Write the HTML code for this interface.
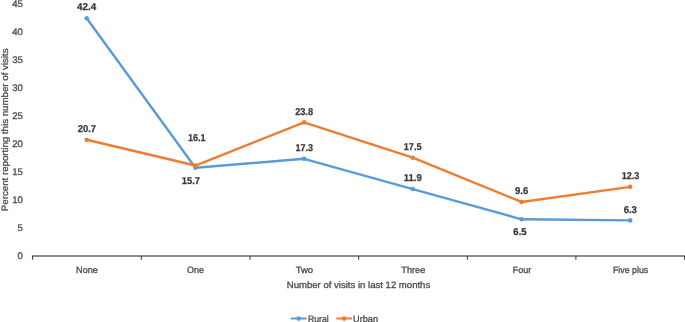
<!DOCTYPE html>
<html><head><meta charset="utf-8"><title>Chart</title>
<style>
html,body{margin:0;padding:0;background:#fff;}
svg{display:block;}
text{font-family:"Liberation Sans",sans-serif;text-rendering:geometricPrecision;}
</style></head><body>
<svg width="685" height="322" viewBox="0 0 685 322">
<rect width="685" height="322" fill="#fff"/>
<path d="M31.8 256.05H685" stroke="#666" stroke-width="1.6" fill="none"/>
<path d="M32.60 256V259.7" stroke="#404040" stroke-width="1.1" fill="none"/>
<path d="M141.35 256V259.7" stroke="#404040" stroke-width="1.1" fill="none"/>
<path d="M250.00 256V259.7" stroke="#404040" stroke-width="1.1" fill="none"/>
<path d="M358.60 256V259.7" stroke="#404040" stroke-width="1.1" fill="none"/>
<path d="M467.40 256V259.7" stroke="#404040" stroke-width="1.1" fill="none"/>
<path d="M575.90 256V259.7" stroke="#404040" stroke-width="1.1" fill="none"/>
<path d="M684.60 256V259.7" stroke="#404040" stroke-width="1.1" fill="none"/>
<text x="22.9" y="259.30" font-size="9.6" fill="#4a4a4a" stroke="#4a4a4a" stroke-width="0.3" text-anchor="end">0</text>
<text x="22.9" y="231.30" font-size="9.6" fill="#4a4a4a" stroke="#4a4a4a" stroke-width="0.3" text-anchor="end">5</text>
<text x="22.9" y="203.30" font-size="9.6" fill="#4a4a4a" stroke="#4a4a4a" stroke-width="0.3" text-anchor="end">10</text>
<text x="22.9" y="175.30" font-size="9.6" fill="#4a4a4a" stroke="#4a4a4a" stroke-width="0.3" text-anchor="end">15</text>
<text x="22.9" y="147.30" font-size="9.6" fill="#4a4a4a" stroke="#4a4a4a" stroke-width="0.3" text-anchor="end">20</text>
<text x="22.9" y="119.30" font-size="9.6" fill="#4a4a4a" stroke="#4a4a4a" stroke-width="0.3" text-anchor="end">25</text>
<text x="22.9" y="91.30" font-size="9.6" fill="#4a4a4a" stroke="#4a4a4a" stroke-width="0.3" text-anchor="end">30</text>
<text x="22.9" y="63.30" font-size="9.6" fill="#4a4a4a" stroke="#4a4a4a" stroke-width="0.3" text-anchor="end">35</text>
<text x="22.9" y="35.30" font-size="9.6" fill="#4a4a4a" stroke="#4a4a4a" stroke-width="0.3" text-anchor="end">40</text>
<text x="22.9" y="7.30" font-size="9.6" fill="#4a4a4a" stroke="#4a4a4a" stroke-width="0.3" text-anchor="end">45</text>
<text x="87.00" y="273" font-size="9.2" fill="#4a4a4a" stroke="#4a4a4a" stroke-width="0.3" text-anchor="middle" textLength="21.9" lengthAdjust="spacingAndGlyphs">None</text>
<text x="195.50" y="273" font-size="9.2" fill="#4a4a4a" stroke="#4a4a4a" stroke-width="0.3" text-anchor="middle" textLength="16.9" lengthAdjust="spacingAndGlyphs">One</text>
<text x="304.40" y="273" font-size="9.2" fill="#4a4a4a" stroke="#4a4a4a" stroke-width="0.3" text-anchor="middle" textLength="17.5" lengthAdjust="spacingAndGlyphs">Two</text>
<text x="413.30" y="273" font-size="9.2" fill="#4a4a4a" stroke="#4a4a4a" stroke-width="0.3" text-anchor="middle" textLength="24.0" lengthAdjust="spacingAndGlyphs">Three</text>
<text x="522.00" y="273" font-size="9.2" fill="#4a4a4a" stroke="#4a4a4a" stroke-width="0.3" text-anchor="middle" textLength="18.5" lengthAdjust="spacingAndGlyphs">Four</text>
<text x="630.60" y="273" font-size="9.2" fill="#4a4a4a" stroke="#4a4a4a" stroke-width="0.3" text-anchor="middle" textLength="35.3" lengthAdjust="spacingAndGlyphs">Five plus</text>
<text x="358.5" y="287.7" font-size="9.2" fill="#4a4a4a" stroke="#4a4a4a" stroke-width="0.3" text-anchor="middle" textLength="143.4" lengthAdjust="spacingAndGlyphs">Number of visits in last 12 months</text>
<text transform="translate(7.7 129.8) rotate(-90)" font-size="9.2" fill="#4a4a4a" stroke="#4a4a4a" stroke-width="0.3" text-anchor="middle" textLength="162.7" lengthAdjust="spacingAndGlyphs">Percent reporting this number of visits</text>
<polyline points="86.70,18.26 195.40,167.78 304.10,158.82 412.80,189.06 521.50,219.30 630.20,220.42" fill="none" stroke="#5B9BD5" stroke-width="2.4" stroke-linejoin="round" stroke-linecap="round"/>
<circle cx="86.70" cy="18.26" r="2.3" fill="#5B9BD5"/>
<circle cx="195.40" cy="167.78" r="2.3" fill="#5B9BD5"/>
<circle cx="304.10" cy="158.82" r="2.3" fill="#5B9BD5"/>
<circle cx="412.80" cy="189.06" r="2.3" fill="#5B9BD5"/>
<circle cx="521.50" cy="219.30" r="2.3" fill="#5B9BD5"/>
<circle cx="630.20" cy="220.42" r="2.3" fill="#5B9BD5"/>
<polyline points="86.70,139.78 195.40,165.54 304.10,122.42 412.80,157.70 521.50,201.94 630.20,186.82" fill="none" stroke="#ED7D31" stroke-width="2.4" stroke-linejoin="round" stroke-linecap="round"/>
<circle cx="86.70" cy="139.78" r="2.3" fill="#ED7D31"/>
<circle cx="195.40" cy="165.54" r="2.3" fill="#ED7D31"/>
<circle cx="304.10" cy="122.42" r="2.3" fill="#ED7D31"/>
<circle cx="412.80" cy="157.70" r="2.3" fill="#ED7D31"/>
<circle cx="521.50" cy="201.94" r="2.3" fill="#ED7D31"/>
<circle cx="630.20" cy="186.82" r="2.3" fill="#ED7D31"/>
<text x="86.60" y="10.46" font-size="10" font-weight="bold" fill="#383838" stroke="#383838" stroke-width="0.25" text-anchor="middle" textLength="19.2" lengthAdjust="spacingAndGlyphs">42.4</text>
<text x="86.90" y="131.98" font-size="10" font-weight="bold" fill="#383838" stroke="#383838" stroke-width="0.25" text-anchor="middle" textLength="18.4" lengthAdjust="spacingAndGlyphs">20.7</text>
<text x="196.80" y="141.40" font-size="10" font-weight="bold" fill="#383838" stroke="#383838" stroke-width="0.25" text-anchor="middle" textLength="17.6" lengthAdjust="spacingAndGlyphs">16.1</text>
<text x="190.90" y="183.60" font-size="10" font-weight="bold" fill="#383838" stroke="#383838" stroke-width="0.25" text-anchor="middle" textLength="18.2" lengthAdjust="spacingAndGlyphs">15.7</text>
<text x="304.10" y="114.62" font-size="10" font-weight="bold" fill="#383838" stroke="#383838" stroke-width="0.25" text-anchor="middle" textLength="17.9" lengthAdjust="spacingAndGlyphs">23.8</text>
<text x="304.20" y="151.02" font-size="10" font-weight="bold" fill="#383838" stroke="#383838" stroke-width="0.25" text-anchor="middle" textLength="17.6" lengthAdjust="spacingAndGlyphs">17.3</text>
<text x="412.70" y="149.90" font-size="10" font-weight="bold" fill="#383838" stroke="#383838" stroke-width="0.25" text-anchor="middle" textLength="17.9" lengthAdjust="spacingAndGlyphs">17.5</text>
<text x="412.70" y="181.26" font-size="10" font-weight="bold" fill="#383838" stroke="#383838" stroke-width="0.25" text-anchor="middle" textLength="17.9" lengthAdjust="spacingAndGlyphs">11.9</text>
<text x="521.70" y="194.14" font-size="10" font-weight="bold" fill="#383838" stroke="#383838" stroke-width="0.25" text-anchor="middle" textLength="13.3" lengthAdjust="spacingAndGlyphs">9.6</text>
<text x="520.00" y="235.30" font-size="10" font-weight="bold" fill="#383838" stroke="#383838" stroke-width="0.25" text-anchor="middle" textLength="13.3" lengthAdjust="spacingAndGlyphs">6.5</text>
<text x="630.50" y="179.02" font-size="10" font-weight="bold" fill="#383838" stroke="#383838" stroke-width="0.25" text-anchor="middle" textLength="17.6" lengthAdjust="spacingAndGlyphs">12.3</text>
<text x="630.30" y="212.62" font-size="10" font-weight="bold" fill="#383838" stroke="#383838" stroke-width="0.25" text-anchor="middle" textLength="13.3" lengthAdjust="spacingAndGlyphs">6.3</text>
<path d="M291.6 318.6H305.8" stroke="#5B9BD5" stroke-width="2" stroke-linecap="round"/><circle cx="298.7" cy="318.6" r="2.3" fill="#5B9BD5"/>
<path d="M337.2 318.6H351.3" stroke="#ED7D31" stroke-width="2" stroke-linecap="round"/><circle cx="344.2" cy="318.6" r="2.3" fill="#ED7D31"/>
<text x="308.1" y="321.9" font-size="9.2" fill="#4a4a4a" stroke="#4a4a4a" stroke-width="0.3" textLength="20.6" lengthAdjust="spacingAndGlyphs">Rural</text>
<text x="353.1" y="321.9" font-size="9.2" fill="#4a4a4a" stroke="#4a4a4a" stroke-width="0.3" textLength="24.9" lengthAdjust="spacingAndGlyphs">Urban</text>
</svg></body></html>
